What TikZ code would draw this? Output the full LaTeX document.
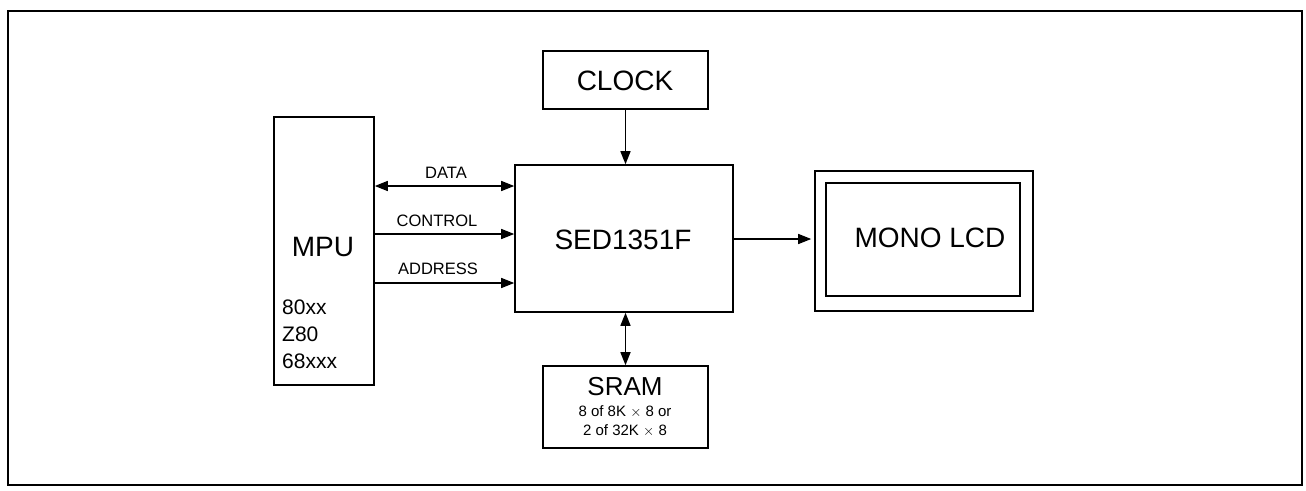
\documentclass[tikz,border=0pt]{standalone}
\usepackage{fontspec}
\setmainfont{Liberation Sans}
\usetikzlibrary{arrows.meta}
\begin{document}
\begin{tikzpicture}[x=1pt,y=-1pt,
  box/.style={draw,line width=1.6pt,inner sep=0pt,minimum width=#1},
  arr/.style={line width=1.5pt,-{Triangle[length=13pt,width=10pt]}},
  darr/.style={line width=1.5pt,{Triangle[length=13pt,width=10pt]}-{Triangle[length=13pt,width=10pt]}},
  big/.style={font=\fontsize{28}{30}\selectfont,inner sep=0pt},
  lab/.style={font=\fontsize{16.5}{18}\selectfont,inner sep=0pt},
  small/.style={font=\fontsize{15}{19}\selectfont,inner sep=0pt,align=center}]
\useasboundingbox (0,0) rectangle (1306,490);
\draw[line width=2.2pt] (8,11) rectangle (1302,485);
% boxes
\node[box=165pt,minimum height=58pt] (clock) at (625.5,80) {};
\node[box=218pt,minimum height=147pt] (sed) at (624,238.5) {};
\node[box=100pt,minimum height=268pt] (mpu) at (324,251) {};
\node[box=165pt,minimum height=82pt] (sram) at (625.5,407) {};
\node[box=218pt,minimum height=140pt] (lcdo) at (924,241) {};
\node[box=194pt,minimum height=113pt] (lcdi) at (923,239.5) {};
% texts
\node[big] (tclock) at (625,81) {CLOCK};
\node[big] (tsed) at (623,240) {SED1351F};
\node[big] (tmpu) at (323,247) {MPU};
\node[big] (tlcd) at (930,238) {MONO LCD};
\node[big,font=\fontsize{26}{28}\selectfont] (tsram) at (625,387) {SRAM};
\node[small] (tsram2) at (625,421.5) {8 of 8K $\times$ 8 or\\2 of 32K $\times$ 8};
\node[font=\fontsize{21}{27}\selectfont,inner sep=0pt,align=left,anchor=north west] (tmpu2) at (282,300) {80xx\\Z80\\68xxx};
% connectors
\coordinate (yd) at (0,186);
\coordinate (yc) at (0,234);
\coordinate (ya) at (0,283);
\coordinate (yl) at (0,239);
\draw[darr] (mpu.east |- yd) -- (sed.west |- yd);
\draw[arr] (mpu.east |- yc) -- (sed.west |- yc);
\draw[arr] (mpu.east |- ya) -- (sed.west |- ya);
\draw[arr] (clock.south) -- (clock.south |- sed.north);
\draw[darr] (sed.south -| clock.south) -- (sram.north -| clock.south);
\draw[arr] (sed.east |- yl) -- ([xshift=-3pt]lcdo.west |- yl);
% labels
\node[lab] (ldata) at (446,173) {DATA};
\node[lab] (lcontrol) at (437,221) {CONTROL};
\node[lab] (laddr) at (438,269) {ADDRESS};
\end{tikzpicture}
\end{document}
